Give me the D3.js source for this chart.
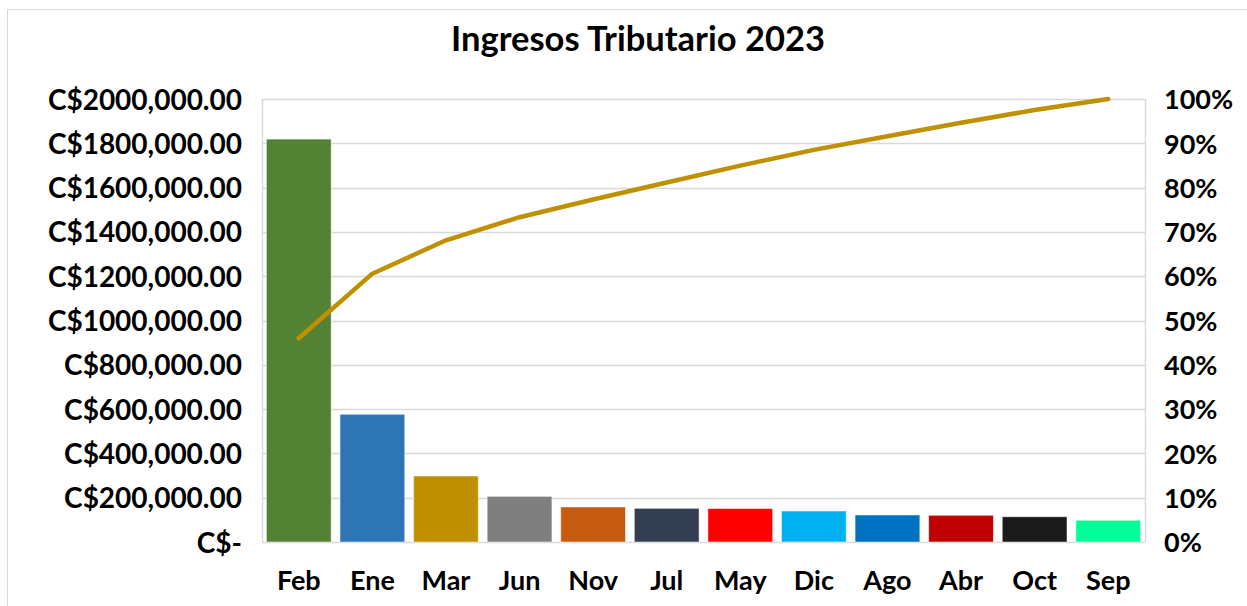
<!DOCTYPE html>
<html>
<head>
<meta charset="utf-8">
<script src="https://cdn.jsdelivr.net/npm/d3@7"></script>
<style>
  body { margin: 0; background: #fff; }
  #chart { width: 1247px; height: 606px; }
  text { font-family: Lato, "Open Sans", sans-serif; font-weight: bold; fill: #000; }
</style>
</head>
<body>
<div id="chart"></div>
<script>
// Months, sorted by income (Pareto order)
const months = ["Feb", "Ene", "Mar", "Jun", "Nov", "Jul", "May", "Dic", "Ago", "Abr", "Oct", "Sep"];
const ingresos = [1819000, 576500, 298000, 206000, 158000, 152000, 151000, 140000, 122000, 120500, 114000, 98000];
const barColors = ["#548235", "#2E75B6", "#BF9000", "#7F7F7F", "#C55A11", "#333F50",
                   "#FF0000", "#00B0F0", "#0070C0", "#C00000", "#1A1A1A", "#00FF99"];
const leftTicks = [0, 200000, 400000, 600000, 800000, 1000000, 1200000, 1400000, 1600000, 1800000, 2000000];
const leftTickLabels = ["C$-", "C$200,000.00", "C$400,000.00", "C$600,000.00", "C$800,000.00",
                        "C$1000,000.00", "C$1200,000.00", "C$1400,000.00", "C$1600,000.00",
                        "C$1800,000.00", "C$2000,000.00"];
const rightTicks = [0, 0.1, 0.2, 0.3, 0.4, 0.5, 0.6, 0.7, 0.8, 0.9, 1];

// cumulative share for the pareto line
const total = d3.sum(ingresos);
const cumShare = Array.from(d3.cumsum(ingresos), v => v / total);

const width = 1247, height = 606;
const margin = { top: 99, right: 102, bottom: 64, left: 262 };
const innerW = width - margin.left - margin.right;
const innerH = height - margin.top - margin.bottom;

const svg = d3.select("#chart")
    .append("svg")
    .attr("width", width)
    .attr("height", height);

// outer chart border
svg.append("rect")
    .attr("x", 7.5).attr("y", 9.5)
    .attr("width", width + 10).attr("height", height + 10)
    .attr("fill", "none")
    .attr("stroke", "#d9d9d9");

// Title
svg.append("text")
    .attr("x", 638)
    .attr("y", 51)
    .attr("text-anchor", "middle")
    .attr("font-size", "34.5px")
    .text("Ingresos Tributario 2023");

const g = svg.append("g")
    .attr("transform", `translate(${margin.left},${margin.top})`);

// Scales
const x = d3.scaleBand()
    .domain(months)
    .range([0, innerW])
    .paddingInner(0.12)
    .paddingOuter(0.06);

const y = d3.scaleLinear()
    .domain([0, 2000000])
    .range([innerH, 0]);

const y2 = d3.scaleLinear()
    .domain([0, 1])
    .range([innerH, 0]);

// Gridlines
g.selectAll(".grid")
    .data(leftTicks)
    .enter()
    .append("line")
    .attr("class", "grid")
    .attr("x1", 0)
    .attr("x2", innerW)
    .attr("y1", d => Math.round(y(d)) + 0.5)
    .attr("y2", d => Math.round(y(d)) + 0.5)
    .attr("stroke", "#d9d9d9")
    .attr("stroke-width", 1.3);

// plot side borders
[0, innerW].forEach(px => {
    g.append("line")
        .attr("x1", px + 0.5).attr("x2", px + 0.5)
        .attr("y1", 0).attr("y2", innerH)
        .attr("stroke", "#d9d9d9")
        .attr("stroke-width", 1.3);
});

// Bars
g.selectAll(".bar")
    .data(months)
    .enter()
    .append("rect")
    .attr("class", "bar")
    .attr("x", d => x(d))
    .attr("width", x.bandwidth())
    .attr("y", (d, i) => y(ingresos[i]))
    .attr("height", (d, i) => innerH - y(ingresos[i]))
    .attr("fill", (d, i) => barColors[i])
    .attr("stroke", "#fff")
    .attr("stroke-opacity", 0.5)
    .attr("stroke-width", 1);

// Pareto line
const line = d3.line()
    .x((d, i) => x(months[i]) + x.bandwidth() / 2)
    .y(d => y2(d));

g.append("path")
    .datum(cumShare)
    .attr("fill", "none")
    .attr("stroke", "#BF9000")
    .attr("stroke-width", 4.5)
    .attr("stroke-linejoin", "round")
    .attr("stroke-linecap", "round")
    .attr("d", line);

// Left axis
const yAxis = d3.axisLeft(y)
    .tickValues(leftTicks)
    .tickFormat((d, i) => leftTickLabels[i])
    .tickSize(0)
    .tickPadding(20);

g.append("g")
    .call(yAxis)
    .call(s => s.select(".domain").remove())
    .selectAll("text")
    .attr("font-size", "28px")
    .attr("dy", "0.36em");

// Right axis
const y2Axis = d3.axisRight(y2)
    .tickValues(rightTicks)
    .tickFormat(d3.format(".0%"))
    .tickSize(0)
    .tickPadding(19);

g.append("g")
    .attr("transform", `translate(${innerW},0)`)
    .call(y2Axis)
    .call(s => s.select(".domain").remove())
    .selectAll("text")
    .attr("font-size", "27px")
    .attr("dy", "0.36em");

// Bottom axis
const xAxis = d3.axisBottom(x)
    .tickSize(0)
    .tickPadding(29);

g.append("g")
    .attr("transform", `translate(0,${innerH})`)
    .call(xAxis)
    .call(s => s.select(".domain").remove())
    .selectAll("text")
    .attr("font-size", "27px")
    .attr("dy", "0.71em");

svg.selectAll(".tick text").attr("font-family", null).style("fill", "#000");
</script>
</body>
</html>
